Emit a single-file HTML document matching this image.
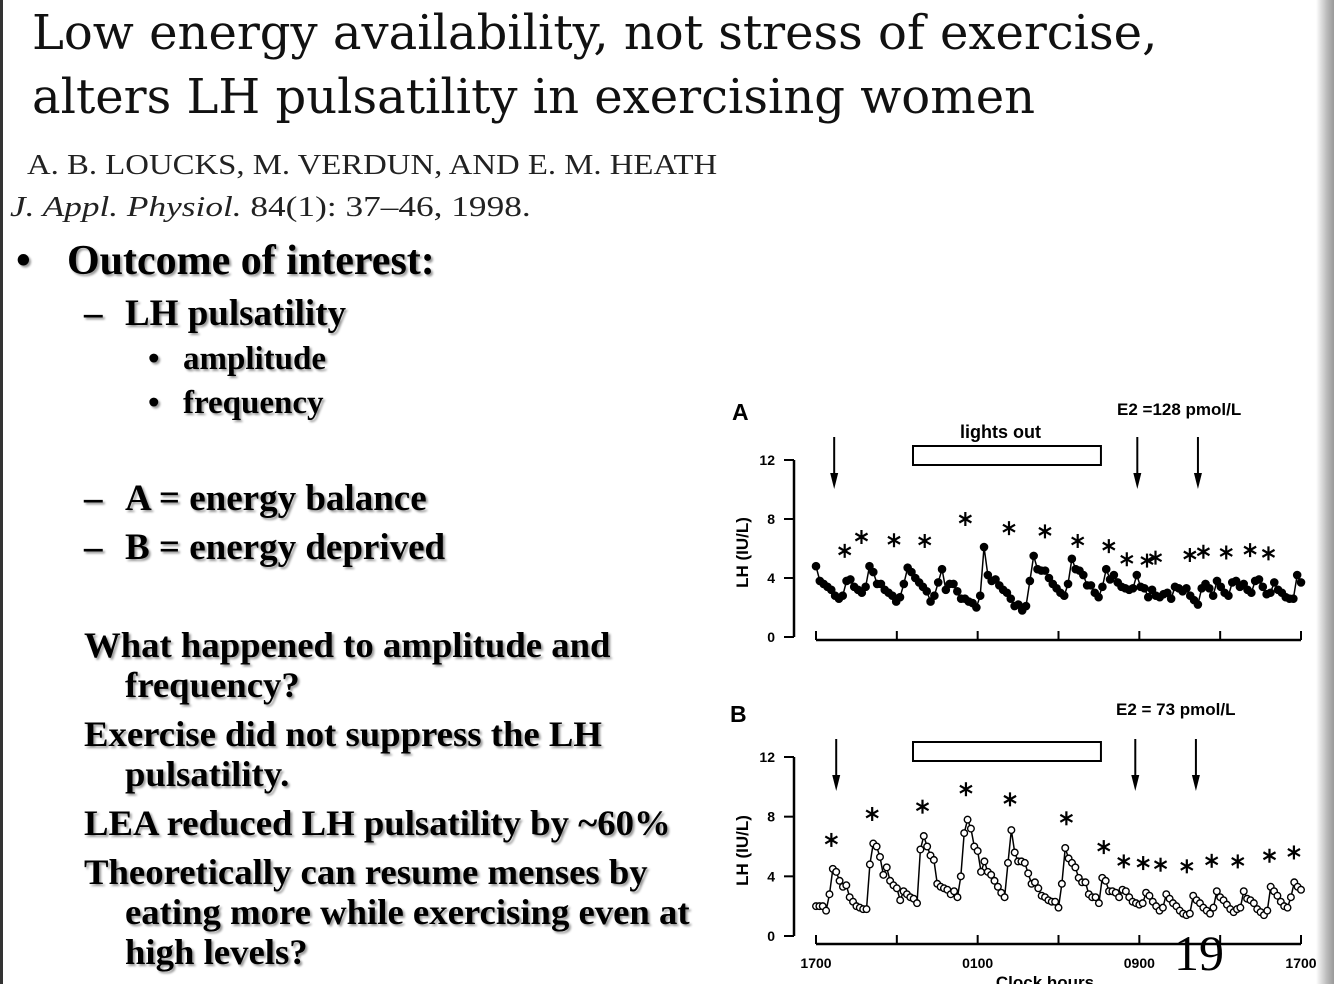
<!DOCTYPE html>
<html><head><meta charset="utf-8">
<style>
body{margin:0;width:1334px;height:984px;overflow:hidden;background:#fff;position:relative;font-family:"Liberation Serif",serif;}
.t{position:absolute;white-space:nowrap;color:#000;line-height:1;}
.title{font-family:"DejaVu Serif",serif;font-size:48px;color:#111;}
.b{font-weight:bold;text-shadow:2px 2px 2px #999;}
.p{font-weight:bold;font-size:36px;text-shadow:2px 2px 2px #999;transform-origin:0 0;transform:scaleX(1.02);}
#edge{position:absolute;right:0;top:0;width:18px;height:984px;background:linear-gradient(to right,#fff,#bbb 60%,#999);}
#ledge{position:absolute;left:0;top:0;width:3px;height:984px;background:#333;}
</style></head><body>
<div id="ledge"></div>
<div class="t title" style="left:32px;top:9px">Low energy availability, not stress of exercise,</div>
<div class="t title" style="left:32px;top:73px">alters LH pulsatility in exercising women</div>
<div class="t" style="left:27px;top:152px;font-size:28px;color:#222;transform-origin:0 0;transform:scaleX(1.17)">A. B. LOUCKS, M. VERDUN, AND E. M. HEATH</div>
<div class="t" style="left:10px;top:194px;font-size:28px;color:#222;transform-origin:0 0;transform:scaleX(1.26)"><i>J. Appl. Physiol.</i> 84(1): 37–46, 1998.</div>
<div class="t b" style="left:16px;top:240px;font-size:42px">•</div>
<div class="t b" style="left:67px;top:240px;font-size:42px">Outcome of interest:</div>
<div class="t b" style="left:84px;top:295px;font-size:37px">–</div>
<div class="t b" style="left:125px;top:295px;font-size:37px">LH pulsatility</div>
<div class="t b" style="left:148px;top:343px;font-size:33px">•</div>
<div class="t b" style="left:183px;top:343px;font-size:33px">amplitude</div>
<div class="t b" style="left:148px;top:387px;font-size:33px">•</div>
<div class="t b" style="left:183px;top:387px;font-size:33px">frequency</div>
<div class="t b" style="left:84px;top:480px;font-size:37px">–</div>
<div class="t b" style="left:125px;top:480px;font-size:37px">A = energy balance</div>
<div class="t b" style="left:84px;top:529px;font-size:37px">–</div>
<div class="t b" style="left:125px;top:529px;font-size:37px">B = energy deprived</div>
<div class="t p" style="left:84px;top:627px">What happened to amplitude and</div>
<div class="t p" style="left:125px;top:667px">frequency?</div>
<div class="t p" style="left:84px;top:716px">Exercise did not suppress the LH</div>
<div class="t p" style="left:125px;top:756px">pulsatility.</div>
<div class="t p" style="left:84px;top:805px">LEA reduced LH pulsatility by ~60%</div>
<div class="t p" style="left:84px;top:854px">Theoretically can resume menses by</div>
<div class="t p" style="left:125px;top:894px">eating more while exercising even at</div>
<div class="t p" style="left:125px;top:934px">high levels?</div>

<svg id="chart" width="1334" height="984" style="position:absolute;left:0;top:0" font-family="Liberation Sans, sans-serif"></svg>
<div id="edge"></div>
<div class="t" style="left:1174px;top:928px;font-size:50px">19</div>

<script>
const seriesA=[4.8,3.8,3.6,3.4,3.2,2.8,2.6,2.8,3.8,3.9,3.4,3.2,3.0,3.4,4.8,4.4,3.6,3.6,3.2,3.0,2.8,2.4,2.7,3.6,4.7,4.4,4.0,3.7,3.4,3.1,2.4,2.8,3.7,4.6,3.2,3.6,3.6,3.1,2.6,2.6,2.4,2.3,2.0,2.8,6.1,4.2,3.8,3.9,3.5,3.2,3.0,2.6,2.1,2.2,1.8,2.1,3.8,5.5,4.6,4.5,4.5,4.0,3.6,3.3,3.0,2.8,3.6,5.3,4.6,4.5,4.2,3.5,3.5,3.0,2.7,3.4,4.6,3.9,4.2,3.7,3.4,3.3,3.2,3.3,4.2,3.4,3.3,2.7,3.2,2.8,2.7,2.9,3.0,2.6,3.4,3.3,3.1,3.3,2.8,2.5,2.2,3.3,3.6,3.3,2.8,3.8,3.4,3.0,2.8,3.7,3.8,3.4,3.6,3.2,3.0,3.8,3.9,3.4,2.9,3.0,3.7,3.2,3.0,2.7,2.6,2.6,4.2,3.7];
const seriesB=[2.0,2.0,2.0,1.7,2.8,4.5,4.3,3.7,3.3,3.4,2.6,2.3,2.0,1.9,1.8,1.8,4.8,6.2,6.0,5.3,4.1,4.6,3.7,3.4,3.2,2.4,3.0,2.8,2.6,2.5,2.2,5.8,6.7,6.0,5.4,5.1,3.5,3.3,3.2,3.1,2.8,3.0,2.6,4.0,6.9,7.8,7.2,6.0,5.7,4.3,5.0,4.3,4.1,3.7,3.3,2.9,2.6,4.9,7.1,5.6,5.0,5.0,4.9,4.2,3.5,3.6,3.2,2.7,2.6,2.4,2.3,2.3,1.9,3.5,5.9,5.2,4.9,4.6,3.9,3.6,3.6,2.8,2.6,2.6,2.2,3.9,3.7,3.0,3.0,2.9,2.6,3.1,3.0,2.6,2.3,2.2,2.1,2.2,2.9,2.7,2.3,2.0,1.7,1.9,2.8,2.5,2.2,2.0,1.7,1.5,1.4,1.5,2.7,2.4,2.2,1.9,1.7,1.5,1.9,3.0,2.6,2.4,2.1,1.8,1.6,1.8,1.9,3.0,2.5,2.4,2.2,1.8,1.6,1.4,1.7,3.3,3.0,2.7,2.3,2.0,1.9,2.6,3.6,3.3,3.1];
const pulseHoursA=[1.42,2.25,3.86,5.38,7.39,9.55,11.33,12.95,14.49,15.38,16.38,16.8,18.5,19.17,20.3,21.48,22.39];
const pulseValsA=[5.84,6.78,6.56,6.51,8.0,7.38,7.16,6.51,6.16,5.27,5.18,5.38,5.56,5.78,5.73,5.89,5.67];
const pulseHoursB=[0.76,2.78,5.27,7.42,9.6,12.39,14.24,15.23,16.19,17.05,18.35,19.58,20.87,22.44,23.65];
const pulseValsB=[6.44,8.18,8.67,9.84,9.16,7.89,5.96,5.0,4.89,4.78,4.67,5.04,5.0,5.38,5.6];
const arrowHoursA=[0.9,15.9,18.9];
const arrowHoursB=[1.0,15.8,18.8];
const lightsOut=[4.8,14.1];
const yTicks=[0,4,8,12];
const xTickHours=[0,4,8,12,16,20,24];
const xTickLabels=["1700","","0100","","0900","","1700"];

const svg=document.getElementById('chart');
const NS='http://www.w3.org/2000/svg';
function mk(tag,attrs,parent){const e=document.createElementNS(NS,tag);for(const k in attrs)e.setAttribute(k,attrs[k]);(parent||svg).appendChild(e);return e;}

function panel(cfg){
  const g=mk('g',{});
  
  
  const X=h=>816+h*(1301-816)/24;
  const Y=v=>cfg.y0-v*(cfg.y0-cfg.y12)/12;
  const ya=mk('line',{x1:794,x2:794,y1:Y(12),y2:Y(0),stroke:'#000','stroke-width':2.5},g);
  
  
  yTicks.forEach(v=>{
    mk('line',{x1:784,x2:794,y1:Y(v),y2:Y(v),stroke:'#000','stroke-width':2},g);
    const t=mk('text',{x:775,y:Y(v)+5,'text-anchor':'end','font-size':14,'font-weight':'bold'},g);
    t.textContent=v;
    
    
  });
  const yt=mk('text',{transform:`translate(748,${(Y(12)+Y(0))/2+4}) rotate(-90)`,'text-anchor':'middle','font-size':17,'font-weight':'bold'},g);
  yt.textContent='LH (IU/L)';
  
  
  const xa=mk('line',{x1:X(0),x2:X(24),y1:cfg.xaxY,y2:cfg.xaxY,stroke:'#000','stroke-width':2.5},g);
  
  
  xTickHours.forEach((h,i)=>{
    mk('line',{x1:X(h),x2:X(h),y1:cfg.xaxY-9,y2:cfg.xaxY,stroke:'#000','stroke-width':2},g);
    if(cfg.labels&&xTickLabels[i]){
      const t=mk('text',{x:X(h),y:cfg.xaxY+24,'text-anchor':'middle','font-size':14,'font-weight':'bold'},g);
      t.textContent=xTickLabels[i];
      
      
    }
  });
  const bx=mk('rect',{x:X(lightsOut[0]),y:cfg.boxY,width:X(lightsOut[1])-X(lightsOut[0]),height:19,fill:'#fff',stroke:'#000','stroke-width':2},g);
  
  
  cfg.arrows.forEach(h=>{
    const x=X(h);
    const a=mk('g',{},g);
    
    
    mk('line',{x1:x,x2:x,y1:cfg.arrTop,y2:cfg.arrTop+40,stroke:'#000','stroke-width':2},a);
    mk('polygon',{points:`${x-4},${cfg.arrTop+36} ${x+4},${cfg.arrTop+36} ${x},${cfg.arrTop+52}`,fill:'#000'},a);
  });
  const n=cfg.data.length;
  const pts=cfg.data.map((v,i)=>[X(i*24/(n-1)),Y(v)]);
  const pl=mk('polyline',{points:pts.map(p=>p.join(',')).join(' '),fill:'none',stroke:'#000','stroke-width':1.5},g);
  
  
  pts.forEach(p=>{
    const c=mk('circle',{cx:p[0],cy:p[1],r:cfg.open?3.3:3.6,fill:cfg.open?'#fff':'#000',stroke:'#000','stroke-width':1.4},g);
    
    
  });
  cfg.ph.forEach((h,i)=>{
    const x=X(h),y=Y(cfg.pv[i]);
    const a=mk('g',{stroke:'#000','stroke-width':2.2},g);
    
    
    [0,60,120].forEach(d=>{
      const r=d*Math.PI/180;
      mk('line',{x1:x-7*Math.sin(r),y1:y-7*Math.cos(r),x2:x+7*Math.sin(r),y2:y+7*Math.cos(r)},a);
    });
  });
}
panel({name:'panel-a-energy-balance',y0:637,y12:460,xaxY:640,boxY:446,arrTop:437,arrows:arrowHoursA,data:seriesA,ph:pulseHoursA,pv:pulseValsA,open:false,labels:false});
panel({name:'panel-b-energy-deprived',y0:936,y12:757,xaxY:944,boxY:742,arrTop:739,arrows:arrowHoursB,data:seriesB,ph:pulseHoursB,pv:pulseValsB,open:true,labels:true});

function label(txt,x,y,size,name,anchor){
  const t=mk('text',{x:x,y:y,'font-size':size,'font-weight':'bold','text-anchor':anchor||'start'});
  t.textContent=txt;
  
  
}
label('A',732,420,23,'panel-a-label');
label('E2 =128 pmol/L',1117,415,17,'panel-a-e2-label');
label('lights out',960,438,18,'lights-out-label');
label('B',730,722,23,'panel-b-label');
label('E2 = 73 pmol/L',1116,715,17,'panel-b-e2-label');
label('Clock hours',1045,988,17,'x-axis-title','middle');
</script>
</body></html>
